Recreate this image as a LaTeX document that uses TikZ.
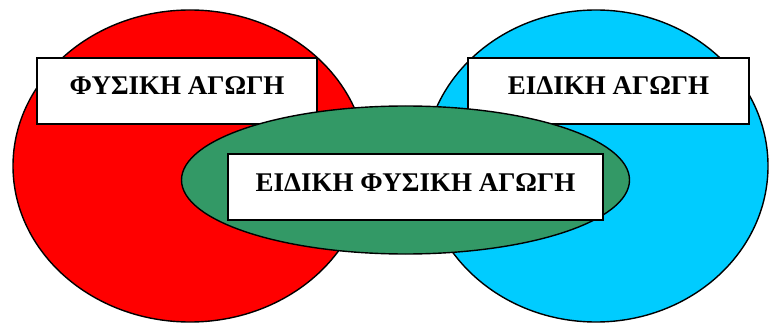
\documentclass[tikz,border=0pt]{standalone}
\usepackage{fontspec}
\setmainfont{Liberation Serif}
\usetikzlibrary{positioning}

\definecolor{redset}{HTML}{FF0000}
\definecolor{blueset}{HTML}{00CCFF}
\definecolor{greenset}{HTML}{339966}

\begin{document}
\begin{tikzpicture}[x=1pt,y=-1pt,
	box/.style={draw,fill=white,line width=1.6pt,inner sep=0pt,
		text height=37pt,text depth=29pt,
		font=\fontsize{27}{30}\selectfont\bfseries},
	set/.style={draw,line width=1.4pt}]
		\useasboundingbox (0,0) rectangle (770,323);
		\draw[set,fill=redset] (190,166) ellipse [x radius=177pt,y radius=156pt]; %Φ.Α.
		\draw[set,fill=blueset] (596,166) ellipse [x radius=172pt,y radius=156pt]; %Ε.Α.
		\node[box,minimum width=280pt] (fa) at (177,91) {ΦΥΣΙΚΗ ΑΓΩΓΗ};
		\node[box,minimum width=281pt] (ea) at (608.5,91) {ΕΙΔΙΚΗ ΑΓΩΓΗ};
		\draw[set,fill=greenset] (405.5,180) ellipse [x radius=224pt,y radius=74pt]; %τομή
		\node[box,line width=2pt,minimum width=375pt] (efa) at (415.5,187) {ΕΙΔΙΚΗ ΦΥΣΙΚΗ ΑΓΩΓΗ};
	\end{tikzpicture}
\end{document}
